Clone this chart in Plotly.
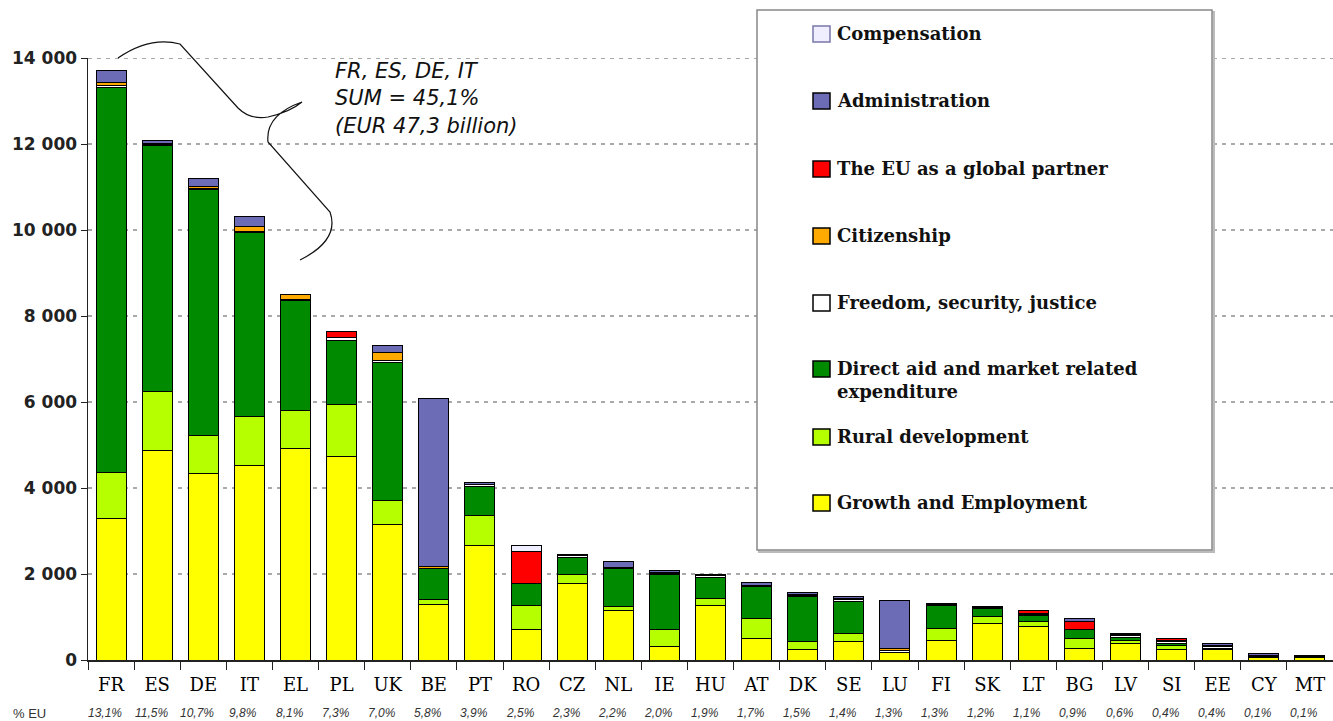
import plotly.graph_objects as go

# ---------------- data ----------------
countries = ["FR", "ES", "DE", "IT", "EL", "PL", "UK", "BE", "PT", "RO", "CZ", "NL", "IE", "HU",
             "AT", "DK", "SE", "LU", "FI", "SK", "LT", "BG", "LV", "SI", "EE", "CY", "MT"]
pct_eu = ["13,1%", "11,5%", "10,7%", "9,8%", "8,1%", "7,3%", "7,0%", "5,8%", "3,9%", "2,5%", "2,3%",
          "2,2%", "2,0%", "1,9%", "1,7%", "1,5%", "1,4%", "1,3%", "1,3%", "1,2%", "1,1%", "0,9%",
          "0,6%", "0,4%", "0,4%", "0,1%", "0,1%"]

growth = [3290, 4880, 4340, 4530, 4910, 4730, 3140, 1280, 2660, 700, 1770, 1160, 310, 1260,
          500, 255, 420, 180, 450, 850, 775, 270, 390, 255, 255, 50, 50]
rural = [1080, 1360, 890, 1140, 900, 1220, 570, 130, 710, 560, 230, 80, 390, 170,
         470, 170, 200, 0, 280, 155, 115, 235, 75, 85, 0, 0, 0]
direct_aid = [8950, 5730, 5720, 4270, 2540, 1480, 3210, 720, 660, 510, 390, 890, 1280, 500,
              740, 1050, 750, 0, 535, 185, 140, 195, 60, 50, 15, 10, 10]
freedom = [40, 30, 20, 30, 40, 80, 40, 0, 40, 0, 30, 20, 30, 30,
           20, 30, 30, 40, 25, 20, 30, 0, 40, 30, 40, 30, 20]
citizenship = [70, 20, 50, 100, 120, 0, 200, 50, 20, 0, 20, 0, 20, 10,
               0, 30, 30, 40, 10, 10, 20, 0, 20, 40, 30, 20, 15]
global_partner = [0, 0, 0, 0, 0, 140, 0, 0, 0, 750, 0, 0, 0, 0,
                  0, 0, 0, 0, 0, 0, 60, 195, 0, 40, 0, 0, 0]
administration = [280, 70, 170, 250, 0, 0, 160, 3900, 40, 0, 20, 135, 40, 30,
                  80, 40, 40, 1135, 20, 20, 0, 75, 35, 0, 50, 45, 20]
compensation = [0, 0, 0, 0, 0, 0, 0, 0, 0, 140, 0, 0, 0, 0,
                0, 0, 0, 0, 0, 0, 0, 0, 0, 0, 0, 0, 0]

y_tick_values = [0, 2000, 4000, 6000, 8000, 10000, 12000, 14000]
y_tick_labels = ["0", "2 000", "4 000", "6 000", "8 000", "10 000", "12 000", "14 000"]

series_names = ["Growth and Employment", "Rural development",
                "Direct aid and market related<br>expenditure", "Freedom, security, justice",
                "Citizenship", "The EU as a global partner", "Administration", "Compensation"]
series_values = [growth, rural, direct_aid, freedom, citizenship, global_partner,
                 administration, compensation]
series_colors = ["#FFFF00", "#B6FF00", "#008A00", "#FFFFFF", "#FFAA00", "#FF0000",
                 "#6B6BB6", "#EEEEFF"]

callout_lines = ["FR, ES, DE, IT", "SUM = 45,1%", "(EUR 47,3 billion)"]

# ---------------- layout helpers (pixel -> paper) ----------------
W, H = 1333, 721
L, R, T, B = 88, 0, 58, 61
PW, PH = W - L - R, H - T - B


def px(x):
    return (x - L) / PW


def py(y):
    return (H - B - y) / PH


fig = go.Figure()
for name, vals, col in zip(series_names, series_values, series_colors):
    fig.add_trace(go.Bar(
        x=countries, y=[v if v else None for v in vals], name=name,
        marker=dict(color=col, line=dict(color="#000000", width=1)),
        showlegend=False))

shapes = []
annotations = []

# top gridline (at the plot edge)
shapes.append(dict(type="line", xref="paper", yref="y", x0=0, x1=1,
                   y0=y_tick_values[-1], y1=y_tick_values[-1],
                   line=dict(color="#AAAAAA", width=2, dash="4px,5px"), layer="below"))

# percentage row
for c, p in zip(countries, pct_eu):
    annotations.append(dict(x=c, xref="x", y=py(713), yref="paper", text="<i>" + p + "</i>",
                            showarrow=False, xshift=-6,
                            font=dict(family="Liberation Sans", size=12, color="#333333"),
                            xanchor="center", yanchor="middle"))
annotations.append(dict(x=px(29), xref="paper", y=py(713), yref="paper", text="% EU",
                        showarrow=False, font=dict(family="Liberation Sans", size=13, color="#333333"),
                        xanchor="center", yanchor="middle"))

# legend box (manual)
shapes.append(dict(type="rect", xref="paper", yref="paper", x0=px(759), x1=px(1214),
                   y0=py(552), y1=py(12), line=dict(color="#BBBBBB", width=2),
                   fillcolor="#DDDDDD", layer="above"))
shapes.append(dict(type="rect", xref="paper", yref="paper", x0=px(757), x1=px(1212),
                   y0=py(550), y1=py(10), line=dict(color="#888888", width=1.5),
                   fillcolor="#FFFFFF", layer="above"))
legend_y = [503, 437, 369, 303, 236, 169, 101, 34]
for name, col, ly in zip(series_names, series_colors, legend_y):
    edge = "#7777AA" if col == "#EEEEFF" else "#000000"
    shapes.append(dict(type="rect", xref="paper", yref="paper", x0=px(813), x1=px(830),
                       y0=py(ly + 8), y1=py(ly - 8), line=dict(color=edge, width=1.5),
                       fillcolor=col, layer="above"))
    annotations.append(dict(x=px(835), xref="paper", y=py(ly - 13), yref="paper",
                            text="<b>" + name.replace("<br>", "</b><br><b>") + "</b>",
                            showarrow=False, xanchor="left", yanchor="top", align="left",
                            font=dict(family="DejaVu Serif", size=18, color="#111111")))

# callout brace
path = ("M {a},{b} Q {c},{d} {e},{f} L {g},{h} Q {i},{j} {k},{l} Q {m},{n} {o},{p} "
        "M {o},{p} Q {q},{r} {s},{t} L {u},{v} Q {w},{x} {y},{z}").format(
    a=px(118), b=py(58), c=px(150), d=py(36), e=px(180), f=py(44),
    g=px(238), h=py(108), i=px(250), j=py(120), k=px(268), l=py(117),
    m=px(290), n=py(112), o=px(302), p=py(102),
    q=px(265), r=py(115), s=px(268), t=py(142),
    u=px(330), v=py(212), w=px(340), x=py(240), y=px(300), z=py(260))
shapes.append(dict(type="path", xref="paper", yref="paper", path=path,
                   line=dict(color="#111111", width=1.2)))
annotations.append(dict(x=px(333), xref="paper", y=py(57), yref="paper",
                        text="<br>".join("<i>" + s + "</i>" for s in callout_lines),
                        showarrow=False, xanchor="left", yanchor="top", align="left",
                        font=dict(family="DejaVu Sans", size=21, color="#111111")))

fig.update_layout(
    width=W, height=H, margin=dict(l=L, r=R, t=T, b=B),
    barmode="stack", bargap=0.35,
    plot_bgcolor="#FFFFFF", paper_bgcolor="#FFFFFF",
    shapes=shapes, annotations=annotations,
    xaxis=dict(type="category", range=[-0.5, len(countries) - 0.5],
               showline=True, linecolor="#222222", linewidth=1.5,
               ticks="outside", tickson="boundaries", ticklen=8, tickcolor="#222222",
               ticklabelstandoff=8,
               tickfont=dict(family="DejaVu Serif", size=18, color="#000000"),
               showgrid=False, fixedrange=True),
    yaxis=dict(range=[0, 14000], tickvals=y_tick_values,
               ticktext=["<b>" + t + "</b>" for t in y_tick_labels],
               showline=True, linecolor="#222222", linewidth=1.5,
               ticks="outside", ticklen=6, tickcolor="#222222",
               tickfont=dict(family="DejaVu Sans", size=17, color="#222222"),
               showgrid=True, gridcolor="#AAAAAA", gridwidth=2, griddash="4px,5px",
               zeroline=False, fixedrange=True),
)

fig.write_html("out.html", config={"displayModeBar": False, "staticPlot": True})

# remove the default page margin so the figure sits at the window's top-left
with open("out.html", "r", encoding="utf-8") as f:
    html = f.read()
html = html.replace("<head>", "<head><style>html,body{margin:0;padding:0;}</style>", 1)
with open("out.html", "w", encoding="utf-8") as f:
    f.write(html)
